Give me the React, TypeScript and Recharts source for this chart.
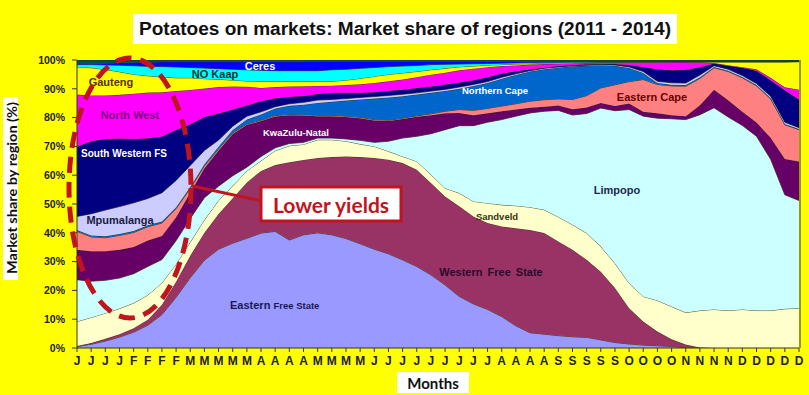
import React from 'react';
import { AreaChart, Area, XAxis, YAxis } from 'recharts';

const weekLabels = ['J','J','J','J','F','F','F','F','M','M','M','M','M','A','A','A','A','M','M','M','M','J','J','J','J','J','J','J','J','J','A','A','A','A','S','S','S','S','S','O','O','O','O','N','N','N','N','D','D','D','D','D'];

const easternFreeState = [0.5,1.3,2.4,3.8,5.5,7.9,11.6,17.6,24.4,30.5,34.3,36.4,38.1,39.9,40.5,37.5,39.3,40.0,39.3,38.0,36.2,34.3,32.7,30.6,28.3,25.4,21.9,17.9,15.3,13.4,10.9,7.7,5.3,4.8,4.3,3.9,3.7,2.8,1.9,1.4,1.0,0.8,0.5,0.1,0,0,0,0,0,0,0,0];
const westernFreeState = [0.2,0.4,0.8,1.0,1.4,1.9,3.4,5.4,7.6,9.5,12.2,15.6,19.4,21.6,23.0,27.0,26.0,26.0,27.0,28.5,30.1,31.7,32.7,33.6,33.6,31.9,30.7,31.3,30.4,30.0,31.3,33.9,35.7,35.1,32.7,30.2,26.9,23.7,18.9,12.4,8.2,4.9,2.5,1.1,0.2,0,0,0,0,0,0,0];
const sandveld = [8.5,8.9,8.9,8.9,8.7,8.6,7.6,6.1,4.8,4.5,4.7,4.3,4.0,3.5,5.0,5.7,5.4,6.3,6.0,5.3,4.5,4.0,2.9,2.3,2.9,2.9,2.9,4.6,5.2,6.9,7.5,7.8,7.9,8.1,8.5,8.7,9.3,8.7,8.6,8.7,8.7,10.8,11.4,11.1,12.8,13.4,13.0,13.4,13.0,13.0,13.6,13.8];
const limpopo = [14.5,12.6,11.4,10.6,10.2,9.9,8.1,8.2,8.2,7.7,5.0,3.5,1.3,1.5,1.0,0.8,0.7,0.6,0.6,0.8,1.3,1.4,3.5,6.4,8.7,14.2,20.3,23.4,26.3,28.1,29.6,31.1,32.7,34.2,37.0,38.1,41.5,48.1,53.0,60.3,62.6,63.3,65.2,67.0,68.0,70.0,67.2,63.9,60.5,52.5,39.6,37.4];
const kwaZuluNatal = [10.4,10.4,10.1,9.8,9.3,9.0,8.2,8.1,8.9,10.2,12.4,14.5,14.7,12.3,10.9,9.8,9.3,7.6,7.6,7.6,7.7,7.6,7.0,6.6,6.8,6.4,5.7,4.4,3.6,3.1,2.9,2.3,1.8,1.6,1.7,2.0,2.1,1.8,1.6,2.1,1.5,1.7,1.2,1.2,3.3,6.3,5.8,4.7,4.8,7.5,12.4,13.6];
const easternCape = [6.4,5.0,4.7,5.0,5.0,4.8,4.5,3.0,1.5,0.8,0.5,0.4,0.3,0.3,0.3,0.3,0.3,0.3,0.3,0.3,0.3,0.3,0.3,0.3,0.3,0.5,0.7,1.2,1.7,1.7,1.8,2.0,2.3,2.4,2.3,3.4,4.1,5.2,7.4,7.6,11.2,10.0,10.2,10.4,9.3,7.6,10.0,11.8,12.7,13.5,11.9,11.0];
const northernCape = [0.5,0.5,0.5,0.5,0.5,0.5,0.5,0.5,0.5,0.6,0.8,1.0,1.5,2.0,2.5,3.0,3.5,4.3,4.7,5.4,6.2,7.3,7.9,7.6,7.4,7.3,7.0,7.2,8.5,8.8,9.5,10.0,10.3,10.6,10.8,11.5,10.4,7.9,6.6,4.7,2.3,0.5,0.4,0.4,0.4,0.3,0.3,0.3,0.3,0.3,0.3,0.2];
const mpumalanga = [4.7,7.5,9.1,9.5,9.8,9.3,10.0,9.3,7.5,4.8,2.3,1.3,1.2,0.9,0.6,0.7,0.8,1.0,0.8,0.7,0.7,0.7,0.7,0.7,0.6,0.6,0.6,0.6,0.5,0.5,0.5,0.4,0.3,0.3,0.3,0.2,0.2,0.2,0.3,0.4,0.5,0.6,0.7,0.7,0.8,0.4,0.5,0.5,0.5,0.6,0.6,0.5];
const southWesternFS = [24.3,25.2,24.7,23.6,22.2,20.9,19.5,17.5,14.3,11.6,9.2,5.8,3.7,3.7,2.9,2.4,2.2,2.1,2.3,2.0,1.6,1.5,1.6,1.6,1.7,1.6,1.7,1.6,1.5,1.5,1.3,0.9,0.5,0.2,0.3,0.3,0.3,0.2,0.3,0.7,1.6,4.2,4.3,4.6,2.7,0.8,1.2,2.7,4.5,5.6,11.1,9.8];
const northWest = [18.0,15.9,15.1,15.2,15.7,15.9,15.4,13.5,11.9,9.9,9.2,8.0,6.5,4.6,3.9,3.6,3.4,2.8,2.5,2.7,3.0,3.2,3.3,3.5,3.7,4.1,4.1,4.2,4.0,3.5,2.6,2.0,1.6,1.3,0.8,0.6,0.5,0.5,0.5,0.9,1.6,2.4,2.9,2.7,1.7,0.2,0.2,0.2,0.5,0.8,1.0,3.4];
const gauteng = [9.6,9.6,9.0,8.0,6.7,5.8,5.3,4.6,4.2,3.4,2.7,2.2,2.0,2.3,2.0,1.8,1.7,1.6,1.5,1.7,2.0,2.3,2.4,2.3,2.0,1.7,1.5,1.2,0.9,0.7,0.5,0.5,0.3,0.3,0.3,0.2,0.1,0.1,0.1,0.1,0.1,0.1,0.1,0.1,0.1,0.3,1.1,1.8,2.5,5.5,8.8,9.7];
const noKaap = [0.8,1.1,1.6,2.3,3.0,3.3,3.6,3.8,3.6,3.7,3.7,3.8,3.9,3.8,3.7,3.7,3.7,3.7,4.0,3.8,3.5,3.1,2.7,2.4,2.1,1.8,1.4,1.0,0.8,0.6,0.5,0.4,0.4,0.3,0.2,0.2,0.2,0.1,0.1,0.1,0.1,0.1,0.1,0.1,0.1,0.1,0.1,0.1,0.1,0.1,0.1,0.1];
const ceres = [0.4,0.4,0.6,0.8,1.1,1.4,1.6,1.8,2.0,2.2,2.4,2.6,2.8,3.0,3.1,3.1,3.1,3.2,2.9,2.7,2.4,2.1,1.8,1.6,1.4,1.1,1.0,0.9,0.8,0.7,0.6,0.5,0.4,0.3,0.3,0.2,0.2,0.2,0.2,0.1,0.1,0.1,0.1,0.1,0.2,0.2,0.2,0.2,0.2,0.2,0.2,0.1];
const other = [1.2,1.2,1.1,1.0,0.9,0.8,0.7,0.6,0.6,0.6,0.6,0.6,0.6,0.6,0.6,0.6,0.6,0.5,0.5,0.5,0.5,0.5,0.5,0.5,0.5,0.5,0.5,0.5,0.5,0.5,0.5,0.5,0.5,0.5,0.5,0.5,0.5,0.5,0.5,0.5,0.5,0.5,0.4,0.4,0.4,0.4,0.4,0.4,0.4,0.4,0.4,0.4];

const yTicks = [0, 10, 20, 30, 40, 50, 60, 70, 80, 90, 100];

const seriesDefs = [
  { key: 'efs', name: 'Eastern Free State', values: easternFreeState, color: '#9999FF' },
  { key: 'wfs', name: 'Western Free State', values: westernFreeState, color: '#993366' },
  { key: 'sandveld', name: 'Sandveld', values: sandveld, color: '#FFFFCC' },
  { key: 'limpopo', name: 'Limpopo', values: limpopo, color: '#CCFFFF' },
  { key: 'kzn', name: 'KwaZulu-Natal', values: kwaZuluNatal, color: '#660066' },
  { key: 'ec', name: 'Eastern Cape', values: easternCape, color: '#FF8080' },
  { key: 'nc', name: 'Northern Cape', values: northernCape, color: '#0066CC' },
  { key: 'mpu', name: 'Mpumalanga', values: mpumalanga, color: '#CCCCFF' },
  { key: 'swfs', name: 'South Western FS', values: southWesternFS, color: '#000080' },
  { key: 'nw', name: 'North West', values: northWest, color: '#FF00FF' },
  { key: 'gauteng', name: 'Gauteng', values: gauteng, color: '#FFFF00' },
  { key: 'nokaap', name: 'NO Kaap', values: noKaap, color: '#00FFFF' },
  { key: 'ceres', name: 'Ceres', values: ceres, color: '#0000FF' },
  { key: 'other', name: 'Other', values: other, color: '#005050' },
];

const data = weekLabels.map((label, i) => {
  const row: Record<string, any> = { label };
  seriesDefs.forEach((s) => { row[s.key] = s.values[i]; });
  return row;
});

const ARIAL = 'Liberation Sans, Arial, sans-serif';
const RED = '#C0141E';

export default function App() {
  return (
    <div style={{ position: 'absolute', left: 0, top: 0, width: 809, height: 395, background: '#FFFF00', overflow: 'hidden' }}>
      <AreaChart width={809} height={395} data={data} margin={{ top: 60, right: 10, bottom: 17, left: 0 }}>
        <XAxis
          dataKey="label"
          interval={0}
          height={30}
          tickSize={4}
          tickMargin={4}
          axisLine={{ stroke: '#333' }}
          tickLine={{ stroke: '#333' }}
          tick={{ fontSize: 12, fontWeight: 'bold', fill: '#222', fontFamily: ARIAL }}
        />
        <YAxis
          type="number"
          domain={[0, 100]}
          ticks={yTicks}
          allowDataOverflow
          width={77}
          tickSize={5}
          tickMargin={7}
          tickFormatter={(v) => `${v}%`}
          axisLine={{ stroke: '#333' }}
          tickLine={{ stroke: '#333' }}
          tick={{ fontSize: 10.5, fontWeight: 'bold', fill: '#222', fontFamily: ARIAL }}
        />
        {seriesDefs.map((s) => (
          <Area
            key={s.key}
            dataKey={s.key}
            name={s.name}
            stackId="1"
            type="linear"
            fill={s.color}
            fillOpacity={1}
            stroke="#2a2a2a"
            strokeWidth={0.8}
            isAnimationActive={false}
            dot={false}
            activeDot={false}
          />
        ))}
      </AreaChart>
      <svg width={809} height={395} style={{ position: 'absolute', left: 0, top: 0, pointerEvents: 'none' }}>
        <line x1={800} y1={60} x2={800} y2={348} stroke="#333" strokeWidth={1} />
        <rect x={133} y={14} width={544} height={30} fill="#fff" />
        <text x={405} y={29} textAnchor="middle" dominantBaseline="central" fontFamily={ARIAL} fontWeight="bold" fontSize={18} fill="#111" textLength={532} lengthAdjust="spacingAndGlyphs">Potatoes on markets: Market share of regions (2011 - 2014)</text>
        <rect x={3} y={97} width={15} height={183} fill="#fff" />
        <text transform="translate(11,188) rotate(-90)" textAnchor="middle" dominantBaseline="central" fontFamily="Lato, Open Sans, sans-serif" fontWeight="bold" fontSize={14} fill="#111" textLength={172} lengthAdjust="spacingAndGlyphs">Market share by region (%)</text>
        <rect x={397} y={372} width={72} height={21} fill="#fff" />
        <text x={433} y={383} textAnchor="middle" dominantBaseline="central" fontFamily="Lato, Open Sans, sans-serif" fontWeight="bold" fontSize={15} fill="#111">Months</text>

        <g fontFamily={ARIAL} fontWeight="bold" dominantBaseline="central" textAnchor="middle">
          <text x={260} y={66} fontSize={11} fill="#fff">Ceres</text>
          <text x={215} y={74} fontSize={11} fill="#003333">NO Kaap</text>
          <text x={111} y={82} fontSize={11} fill="#5a2d00">Gauteng</text>
          <text x={130} y={115} fontSize={11} fill="#800080">North West</text>
          <text x={124} y={153} fontSize={10} fill="#fff">South Western FS</text>
          <text x={120} y={220} fontSize={11} fill="#1a1a40">Mpumalanga</text>
          <text x={296} y={132} fontSize={9.5} fill="#fff">KwaZulu-Natal</text>
          <text x={495} y={90} fontSize={9.5} fill="#fff">Northern Cape</text>
          <text x={652} y={97} fontSize={11} fill="#660000">Eastern Cape</text>
          <text x={617} y={190} fontSize={11} fill="#1a2a4a">Limpopo</text>
          <text x={497} y={216} fontSize={9.5} fill="#333311">Sandveld</text>
          <text x={491} y={272} fontSize={11} fill="#2a0a2a" wordSpacing={2}>Western Free State</text>
          <text x={230} y={305} textAnchor="start" fill="#1a1a50"><tspan fontSize={11}>Eastern </tspan><tspan fontSize={9.5}>Free State</tspan></text>
        </g>

        <ellipse cx={130} cy={188} rx={61} ry={130} fill="none" stroke={RED} strokeWidth={5} strokeDasharray="16 9" />
        <line x1={192} y1={186} x2={262} y2={201} stroke={RED} strokeWidth={3} />
        <rect x={261} y={187} width={140} height={34} fill="#fff" stroke={RED} strokeWidth={3} />
        <text x={331} y={204} textAnchor="middle" dominantBaseline="central" fontFamily="Lato, Open Sans, sans-serif" fontWeight="bold" fontSize={21} fill={RED}>Lower yields</text>
      </svg>
    </div>
  );
}
